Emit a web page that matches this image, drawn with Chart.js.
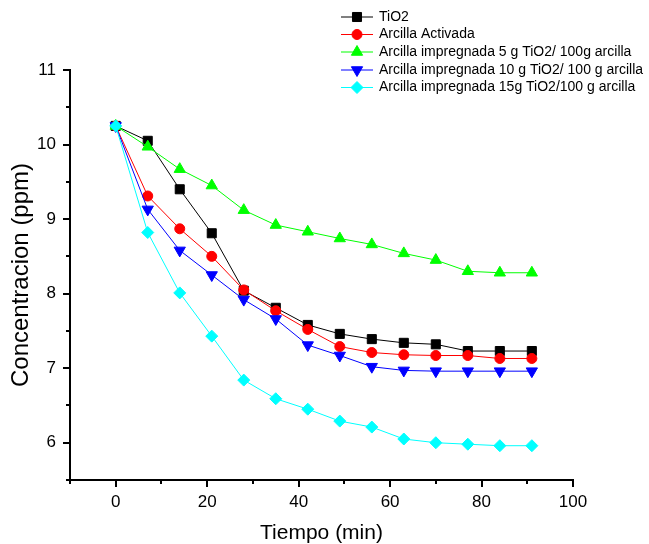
<!DOCTYPE html>
<html>
<head>
<meta charset="utf-8">
<script src="https://cdn.jsdelivr.net/npm/chart.js@4.4.1/dist/chart.umd.min.js"></script>
<style>
  html, body { margin: 0; padding: 0; background: #fff; }
</style>
</head>
<body>
<canvas id="grafico" width="649" height="544"></canvas>
<script>
// datos
const tiempo = [0, 7, 14, 21, 28, 35, 42, 49, 56, 63, 70, 77, 84, 91];
const tio2 = [10.25, 10.05, 9.40, 8.81, 8.04, 7.81, 7.58, 7.46, 7.39, 7.34, 7.32, 7.23, 7.23, 7.23];
const arcillaActivada = [10.25, 9.31, 8.87, 8.50, 8.05, 7.77, 7.52, 7.29, 7.21, 7.18, 7.17, 7.17, 7.13, 7.13];
const arcilla5g = [10.25, 9.97, 9.67, 9.45, 9.12, 8.92, 8.83, 8.74, 8.66, 8.54, 8.45, 8.30, 8.28, 8.28];
const arcilla10g = [10.25, 9.13, 8.58, 8.25, 7.92, 7.66, 7.31, 7.17, 7.02, 6.97, 6.96, 6.96, 6.96, 6.96];
const arcilla15g = [10.25, 8.82, 8.01, 7.43, 6.84, 6.59, 6.45, 6.29, 6.21, 6.05, 6.00, 5.98, 5.96, 5.96];

const series = [
  'TiO2',
  'Arcilla Activada',
  'Arcilla impregnada 5 g TiO2/ 100g arcilla',
  'Arcilla impregnada 10 g TiO2/ 100 g arcilla',
  'Arcilla impregnada 15g TiO2/100 g arcilla'
];

// marcas de los ejes
const xMayores = [0, 20, 40, 60, 80, 100];
const xMenores = [-10, 10, 30, 50, 70, 90];
const yMayores = [6, 7, 8, 9, 10, 11];
const yMenores = [5.5, 6.5, 7.5, 8.5, 9.5, 10.5];

const fuente = 'Arial, "Liberation Sans", sans-serif';

function puntos(valores) {
  return tiempo.map((t, i) => ({ x: t, y: valores[i] }));
}

function serie(nombre, valores, color, estilo, radio, rot, orden) {
  return {
    label: nombre,
    data: puntos(valores),
    borderColor: color,
    backgroundColor: color,
    borderWidth: 1,
    pointStyle: estilo,
    pointRadius: radio,
    pointRotation: rot,
    pointBorderWidth: 1,
    pointBorderColor: color,
    pointBackgroundColor: color,
    tension: 0,
    order: orden
  };
}

// marcas mayores y menores dibujadas a mano
const marcasEjes = {
  id: 'marcasEjes',
  afterDraw(chart) {
    const ctx = chart.ctx;
    const sx = chart.scales.x, sy = chart.scales.y;
    const area = chart.chartArea;
    ctx.save();
    ctx.strokeStyle = '#000';
    ctx.lineWidth = 2;
    ctx.beginPath();
    xMayores.forEach(v => {
      const px = Math.round(sx.getPixelForValue(v));
      ctx.moveTo(px, area.bottom); ctx.lineTo(px, area.bottom + 7);
    });
    xMenores.forEach(v => {
      const px = Math.round(sx.getPixelForValue(v));
      ctx.moveTo(px, area.bottom); ctx.lineTo(px, area.bottom + 4);
    });
    yMayores.forEach(v => {
      const py = Math.round(sy.getPixelForValue(v));
      ctx.moveTo(area.left, py); ctx.lineTo(area.left - 7, py);
    });
    yMenores.forEach(v => {
      const py = Math.round(sy.getPixelForValue(v));
      ctx.moveTo(area.left, py); ctx.lineTo(area.left - 4, py);
    });
    ctx.stroke();
    ctx.restore();
  }
};

// leyenda arriba a la derecha, como en la figura original
const leyenda = {
  id: 'leyenda',
  afterDraw(chart) {
    const ctx = chart.ctx;
    const filas = [17, 34.5, 52, 70, 87.5];
    ctx.save();
    chart.data.datasets.forEach((ds, i) => {
      const y = filas[i];
      ctx.strokeStyle = ds.borderColor;
      ctx.lineWidth = 1;
      ctx.beginPath();
      ctx.moveTo(341, y); ctx.lineTo(373, y);
      ctx.stroke();
      ctx.fillStyle = ds.backgroundColor;
      ctx.strokeStyle = ds.borderColor;
      Chart.helpers.drawPoint(ctx, {
        pointStyle: ds.pointStyle,
        rotation: ds.pointRotation,
        radius: ds.pointRadius,
        borderWidth: 1
      }, 357, y);
      ctx.fillStyle = '#000';
      ctx.font = '14px ' + fuente;
      ctx.textBaseline = 'middle';
      ctx.textAlign = 'left';
      ctx.fillText(ds.label, 379, y);
    });
    ctx.restore();
  }
};

const ctx = document.getElementById('grafico').getContext('2d');
new Chart(ctx, {
  type: 'line',
  data: {
    datasets: [
      serie(series[0], tio2, '#000000', 'rect', 6.4, 0, 5),
      serie(series[1], arcillaActivada, '#ff0000', 'circle', 5, 0, 4),
      serie(series[2], arcilla5g, '#00ff00', 'triangle', 6.5, 0, 3),
      serie(series[3], arcilla10g, '#0000ff', 'triangle', 6.5, 180, 2),
      serie(series[4], arcilla15g, '#00ffff', 'rectRot', 6, 0, 1)
    ]
  },
  options: {
    responsive: false,
    animation: false,
    layout: { padding: { top: 70, right: 76, left: 0, bottom: 0 } },
    plugins: {
      legend: { display: false },
      tooltip: { enabled: false }
    },
    scales: {
      x: {
        type: 'linear',
        min: -10,
        max: 100,
        afterFit: s => { s.height = 64; },
        afterBuildTicks: s => { s.ticks = xMayores.map(v => ({ value: v })); },
        grid: { display: false, drawTicks: false },
        border: { display: true, color: '#000', width: 2 },
        ticks: { color: '#000', font: { family: fuente, size: 17 }, padding: 12 },
        title: {
          display: true,
          text: 'Tiempo (min)',
          color: '#000',
          font: { family: fuente, size: 21, lineHeight: 1 },
          padding: { top: 0, bottom: 0 }
        }
      },
      y: {
        min: 5.5,
        max: 11,
        afterFit: s => { s.width = 70; },
        afterBuildTicks: s => { s.ticks = yMayores.map(v => ({ value: v })); },
        grid: { display: false, drawTicks: false },
        border: { display: true, color: '#000', width: 2 },
        ticks: { color: '#000', font: { family: fuente, size: 17 }, padding: 14 },
        title: {
          display: true,
          text: 'Concentracion (ppm)',
          color: '#000',
          font: { family: fuente, size: 24, lineHeight: 1.2 },
          padding: { top: 7, bottom: 0 }
        }
      }
    }
  },
  plugins: [marcasEjes, leyenda]
});
</script>
</body>
</html>
